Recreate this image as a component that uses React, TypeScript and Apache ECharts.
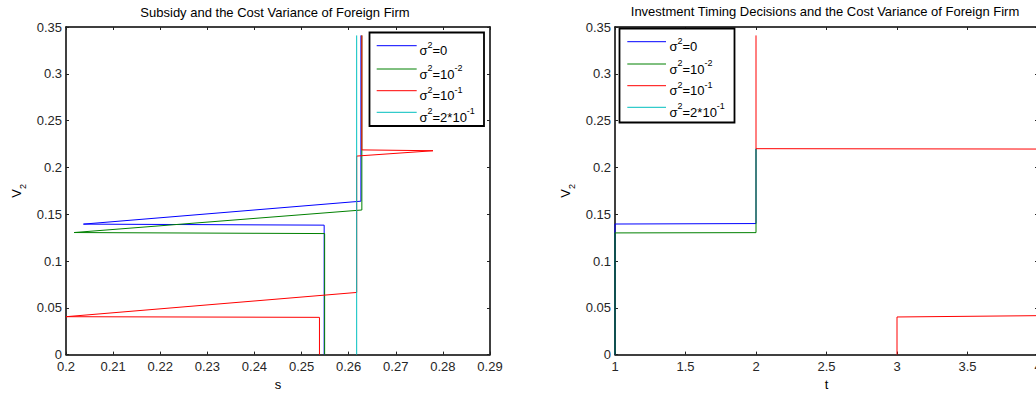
import React, { useEffect, useRef } from "react";
import * as echarts from "echarts";

// ---- data: left panel (V2 vs s) ----
const leftBlueS = [0.2548, 0.2548, 0.2037, 0.2626, 0.2626];
const leftBlueV = [0, 0.1383, 0.1394, 0.1639, 0.341];
const leftGreenS = [0.2549, 0.2549, 0.2017, 0.2628, 0.2628];
const leftGreenV = [0, 0.1293, 0.1304, 0.1545, 0.341];
const leftRedS = [0.2538, 0.2538, 0.2, 0.2617, 0.2617, 0.2779, 0.2628, 0.2628];
const leftRedV = [0, 0.0398, 0.0405, 0.0664, 0.2121, 0.2178, 0.2187, 0.341];
const leftCyanS = [0.2617, 0.2617];
const leftCyanV = [0, 0.341];

// ---- data: right panel (V2 vs t) ----
const rightBlueT = [1, 1, 2, 2];
const rightBlueV = [0, 0.1395, 0.14, 0.22];
const rightGreenT = [1, 1, 2, 2];
const rightGreenV = [0, 0.13, 0.1303, 0.22];
const rightRedUpperT = [2, 2, 4];
const rightRedUpperV = [0.341, 0.22, 0.2196];
const rightRedLowerT = [3, 3, 4];
const rightRedLowerV = [0, 0.0402, 0.0416];

const legendLabels = [
  "{n|σ}{s|2}{n|=0}",
  "{n|σ}{s|2}{n|=10}{s|-2}",
  "{n|σ}{s|2}{n|=10}{s|-1}",
  "{n|σ}{s|2}{n|=2*10}{s|-1}",
];
const colors = ["#0000FF", "#008000", "#FF0000", "#00BFBF"];

const sMin = 0.2, sMax = 0.29, sStep = 0.01;
const tMin = 1, tMax = 4, tStep = 0.5;
const vMin = 0, vMax = 0.35, vStep = 0.05;

const FONT = "'Liberation Sans', Arial, Helvetica, sans-serif";

function zip(a: number[], b: number[]) {
  return a.map((x, i) => [x, b[i]]);
}

function axisBase(min: number, max: number, interval: number, show: boolean, pos: string) {
  return {
    type: "value",
    min,
    max,
    interval,
    position: pos,
    axisLine: { show: true, onZero: false, lineStyle: { color: "#000", width: 1.5 } },
    axisTick: { show: true, inside: true, length: 3, lineStyle: { color: "#222", width: 1 } },
    axisLabel: {
      show,
      color: "#262626",
      fontSize: 13,
      lineHeight: 12,
      fontFamily: FONT,
      margin: pos === "bottom" ? 6 : 4,
      formatter: (v: number) => String(+v.toFixed(3)),
    },
    splitLine: { show: false },
  };
}

function legendGraphic(x0: number, y0: number, w: number, h: number, rows: number[], lx1: number, lx2: number, tx: number) {
  const els: any[] = [
    { type: "rect", shape: { x: x0, y: y0, width: w, height: h }, style: { fill: "#fff", stroke: "#000", lineWidth: 1.8 }, z: 100 },
  ];
  rows.forEach((ry, i) => {
    els.push({ type: "line", shape: { x1: lx1, y1: ry, x2: lx2, y2: ry }, style: { stroke: colors[i], lineWidth: 1 }, z: 101 });
    els.push({
      type: "text",
      x: tx,
      y: ry + 3,
      z: 101,
      style: {
        text: legendLabels[i],
        fill: "#000",
        textVerticalAlign: "middle",
        verticalAlign: "middle",
        rich: {
          n: { fontSize: 13, fontFamily: FONT, fill: "#000", verticalAlign: "bottom", lineHeight: 17 },
          s: { fontSize: 9, fontFamily: FONT, fill: "#000", verticalAlign: "top", lineHeight: 17 },
        },
      },
    });
  });
  return els;
}

function lineSeries(name: string, data: number[][], color: string, xi: number, yi: number) {
  return {
    name,
    type: "line",
    data,
    xAxisIndex: xi,
    yAxisIndex: yi,
    showSymbol: false,
    symbol: "none",
    lineStyle: { color, width: 1 },
    itemStyle: { color },
    clip: true,
    z: 2,
  };
}

export default function App() {
  const ref = useRef<HTMLDivElement>(null);
  useEffect(() => {
    if (!ref.current) return;
    const chart = echarts.init(ref.current, undefined, { renderer: "svg" });
    const yName = {
      name: "{v|V}{s|2}",
      nameLocation: "middle",
      nameGap: 39,
      nameTextStyle: {
        rich: {
          v: { fontSize: 13, fontFamily: FONT, color: "#000", verticalAlign: "top", lineHeight: 17 },
          s: { fontSize: 9, fontFamily: FONT, color: "#000", verticalAlign: "bottom", lineHeight: 17 },
        },
      },
    };
    const xNameStyle = { fontSize: 13, fontFamily: FONT, color: "#000" };
    chart.setOption({
      animation: false,
      backgroundColor: "#fff",
      grid: [
        { left: 66, top: 27, width: 424, height: 334 },
        { left: 615, top: 27, width: 423, height: 334 },
      ],
      xAxis: [
        { ...axisBase(sMin, sMax, sStep, true, "bottom"), gridIndex: 0, name: "s", nameLocation: "middle", nameGap: 23, nameTextStyle: xNameStyle },
        { ...axisBase(sMin, sMax, sStep, false, "top"), gridIndex: 0 },
        { ...axisBase(tMin, tMax, tStep, true, "bottom"), gridIndex: 1, name: "t", nameLocation: "middle", nameGap: 23, nameTextStyle: xNameStyle },
        { ...axisBase(tMin, tMax, tStep, false, "top"), gridIndex: 1 },
      ],
      yAxis: [
        { ...axisBase(vMin, vMax, vStep, true, "left"), gridIndex: 0, ...yName },
        { ...axisBase(vMin, vMax, vStep, false, "right"), gridIndex: 0 },
        { ...axisBase(vMin, vMax, vStep, true, "left"), gridIndex: 1, ...yName },
        { ...axisBase(vMin, vMax, vStep, false, "right"), gridIndex: 1 },
      ],
      series: [
        lineSeries("L0", zip(leftBlueS, leftBlueV), colors[0], 0, 0),
        lineSeries("L1", zip(leftGreenS, leftGreenV), colors[1], 0, 0),
        lineSeries("L2", zip(leftRedS, leftRedV), colors[2], 0, 0),
        lineSeries("L3", zip(leftCyanS, leftCyanV), colors[3], 0, 0),
        lineSeries("R0", zip(rightBlueT, rightBlueV), colors[0], 2, 2),
        lineSeries("R1", zip(rightGreenT, rightGreenV), colors[1], 2, 2),
        lineSeries("R2a", zip(rightRedUpperT, rightRedUpperV), colors[2], 2, 2),
        lineSeries("R2b", zip(rightRedLowerT, rightRedLowerV), colors[2], 2, 2),
      ],
      graphic: [
        {
          type: "text",
          x: 275,
          y: 12,
          style: { text: "Subsidy and the Cost Variance of Foreign Firm", fill: "#000", fontSize: 13, fontFamily: FONT, textAlign: "center", textVerticalAlign: "middle", align: "center", verticalAlign: "middle" },
        },
        {
          type: "text",
          x: 825,
          y: 11,
          style: { text: "Investment Timing Decisions and the Cost Variance of Foreign Firm", fill: "#000", fontSize: 13, fontFamily: FONT, textAlign: "center", textVerticalAlign: "middle", align: "center", verticalAlign: "middle" },
        },
        ...legendGraphic(369.5, 32.5, 114.5, 93.5, [45.7, 69, 90.7, 112.3], 376.7, 416.7, 419.5),
        ...legendGraphic(619.5, 28.5, 115, 94, [41.7, 64, 85.7, 107.3], 627.3, 666, 669.5),
      ],
    });
    return () => chart.dispose();
  }, []);
  return (
    <div style={{ position: "fixed", left: 0, top: 0, width: 1036, height: 396, overflow: "hidden", background: "#fff" }}>
      <div ref={ref} style={{ width: 1060, height: 396 }} />
    </div>
  );
}
